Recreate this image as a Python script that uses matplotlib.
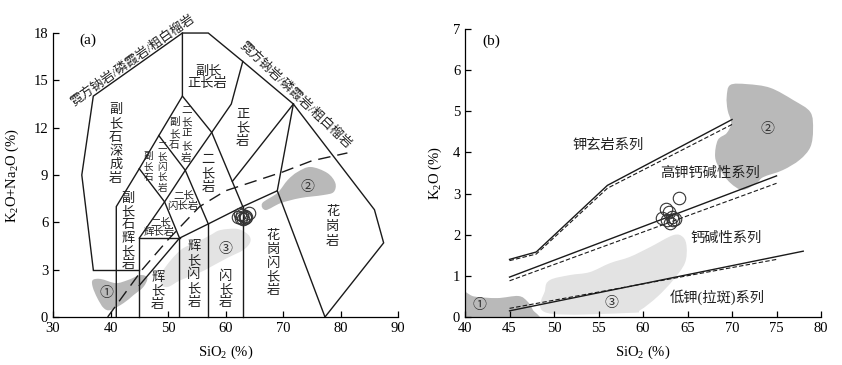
import numpy as np
import matplotlib
matplotlib.use("Agg")
import matplotlib.pyplot as plt
from matplotlib.path import Path
from matplotlib.patches import PathPatch

plt.rcParams['font.family'] = ['Liberation Serif', 'Noto Sans CJK SC', 'DejaVu Sans']
plt.rcParams['mathtext.fontset'] = 'custom'
plt.rcParams['mathtext.rm'] = 'Liberation Serif'
plt.rcParams['mathtext.it'] = 'Liberation Serif:italic'

# ---- panel (a): TAS plutonic classification boundaries ----
tas_lines = [
    [(41, 0), (41, 7), (45, 9.4), (48.4, 11.5), (52.5, 14), (52.5, 18)],
    [(37, 3), (35, 9), (37, 14), (52.5, 18), (57, 18), (63, 16.2), (71.8, 13.5),
     (85.9, 6.8), (87.5, 4.7), (77.3, 0)],
    [(37, 3), (45, 3)],
    [(45, 0), (45, 5), (52, 5)],
    [(52, 0), (52, 5), (57, 5.9), (63, 7), (69, 8), (77.3, 0)],
    [(57, 0), (57, 5.9)],
    [(63, 0), (63, 7)],
    [(69, 8), (71.8, 13.5)],
    [(45, 5), (49.4, 7.3), (53, 9.3), (57.6, 11.7), (61, 13.5), (63, 16.2)],
    [(52, 5), (49.4, 7.3), (45, 9.4)],
    [(57, 5.9), (53, 9.3), (48.4, 11.5)],
    [(63, 7), (57.6, 11.7), (52.5, 14)],
    [(61.2, 8.6), (71.8, 13.5)],
    [(45, 2), (52, 5)],
]
# alkaline / subalkaline dashed curve
alk_x = [39.5, 45.5, 50, 55.5, 60, 65, 70, 75, 81.2]
alk_y = [0, 3.0, 4.9, 7.0, 8.0, 8.6, 9.2, 9.9, 10.4]

blob1_a = [(36.9, 2.34), (38.3, 2.41), (40.9, 2.15), (43.0, 2.34), (45.2, 2.66), (46.4, 2.47),
           (45.7, 1.9), (44.0, 1.39), (42.3, 0.89), (40.0, 0.44), (38.8, 0.57), (37.7, 1.2),
           (36.9, 1.9)]
blob2_a = [(66.4, 7.22), (69.0, 7.86), (70.8, 8.68), (72.5, 9.19), (74.8, 9.51), (77.7, 9.13),
           (79.1, 8.49), (78.8, 7.92), (77.0, 7.73), (73.0, 7.54), (69.6, 7.22), (67.0, 6.78)]
blob3_a = [(48.7, 2.15), (49.2, 2.98), (52.2, 4.25), (55.1, 4.75), (57.4, 5.2), (59.1, 5.51),
           (62.1, 5.58), (64.0, 5.2), (64.3, 4.75), (63.1, 4.25), (60.3, 3.74), (57.4, 3.17),
           (55.7, 2.85), (52.2, 2.34), (49.9, 1.9)]

# samples
sio2 = [62.1, 62.6, 62.7, 62.9, 63.0, 63.3, 63.4, 63.6, 64.0]
alk = [6.35, 6.5, 6.3, 6.45, 6.2, 6.4, 6.25, 6.35, 6.6]
k2o = [2.41, 2.62, 2.36, 2.55, 2.29, 2.43, 2.36, 2.38, 2.89]

# ---- panel (b): K2O-SiO2 series boundaries ----
sho_x = [45, 48, 56, 70]
sho_y = [1.4, 1.58, 3.2, 4.8]
sho_y2 = [1.37, 1.53, 3.13, 4.68]
hk_x = [45, 75]
hk_y = [0.97, 3.43]
hk_y2 = [0.88, 3.25]
ca_x = [45, 78]
ca_y = [0.15, 1.6]
ca_x2 = [45, 75]
ca_y2 = [0.21, 1.4]

blob1_b = [(39.5, 0.62), (41, 0.5), (43.6, 0.46), (46, 0.51), (47, 0.38), (47.6, 0.18),
           (47.9, -0.1), (39.5, -0.1)]
blob2_b = [(69.8, 5.64), (71.7, 5.66), (74.3, 5.57), (76.9, 5.27), (78.8, 4.98), (79.1, 4.55),
           (78.8, 4.13), (77.6, 3.82), (75.7, 3.57), (73.5, 3.4), (72.8, 3.26), (71.2, 3.09),
           (69.8, 3.26), (68.7, 3.57), (68.1, 3.89), (68.4, 4.3), (69.4, 4.47), (69.9, 4.72),
           (69.5, 5.03), (69.4, 5.35)]
blob3_b = [(49.2, 0.1), (49.0, 0.66), (49.55, 0.9), (51.8, 1.02), (54.0, 1.09), (56.3, 1.31),
           (58.5, 1.46), (60.8, 1.7), (63.4, 1.99), (64.5, 1.94), (64.9, 1.7), (64.7, 1.31),
           (63.4, 0.9), (61.6, 0.49), (59.7, 0.17), (58.5, 0.1)]

DARK = '#b9b9b9'
LIGHT = '#e3e3e3'
LC = '#1a1a1a'


def smooth(pts):
    p = np.asarray(pts, float)
    n = len(p)
    verts = [p[0]]
    codes = [Path.MOVETO]
    for i in range(n):
        a, b, c, d = p[i - 1], p[i], p[(i + 1) % n], p[(i + 2) % n]
        verts += [b + (c - a) / 6, c - (d - b) / 6, c]
        codes += [Path.CURVE4] * 3
    return Path(verts, codes)


def blob(ax, pts, color):
    ax.add_patch(PathPatch(smooth(pts), facecolor=color, edgecolor='none', zorder=1))


def vlabel(ax, x, y, s, size=9.5, step=9.9):
    # stack characters one under another (vertical Chinese label)
    n = len(s)
    for i, ch in enumerate(s):
        ax.annotate(ch, (x, y), xytext=(0, ((n - 1) / 2 - i) * step),
                    textcoords='offset points', ha='center', va='center',
                    fontsize=size, color='#222', zorder=4)


def style(ax):
    ax.spines['top'].set_visible(False)
    ax.spines['right'].set_visible(False)
    ax.tick_params(direction='in', length=4, width=0.9, labelsize=10.5)
    for s in ('left', 'bottom'):
        ax.spines[s].set_linewidth(0.9)


fig = plt.figure(figsize=(8.42, 3.65), dpi=100)

# ================= (a) =================
ax1 = fig.add_axes([0.063, 0.1315, 0.4097, 0.778])
ax1.set_xlim(30, 90)
ax1.set_ylim(0, 18)
ax1.set_xticks(range(30, 91, 10))
ax1.set_yticks(range(0, 19, 3))
style(ax1)

blob(ax1, blob1_a, DARK)
blob(ax1, blob2_a, DARK)
blob(ax1, blob3_a, LIGHT)

for seg in tas_lines:
    xs, ys = zip(*seg)
    ax1.plot(xs, ys, color=LC, lw=1.0, zorder=2, clip_on=False, solid_joinstyle='miter')
ax1.plot(alk_x, alk_y, color=LC, lw=1.0, dashes=(9, 5), zorder=2)

ax1.plot(sio2, alk, 'o', ms=9, mfc='none', mec='#333', mew=0.8, zorder=3)

vlabel(ax1, 40.9, 10.93, '副长石深成岩')
vlabel(ax1, 43.1, 5.39, '副长石辉长岩', step=9.5)
vlabel(ax1, 48.2, 1.62, '辉长岩')
vlabel(ax1, 54.5, 2.66, '辉长闪长岩', step=10)
vlabel(ax1, 60.0, 1.71, '闪长岩', step=9.5)
vlabel(ax1, 68.3, 3.39, '花岗闪长岩', step=10)
vlabel(ax1, 78.6, 5.70, '花岗岩', step=10.5)
vlabel(ax1, 63.0, 11.95, '正长岩')
vlabel(ax1, 57.0, 9.06, '二长岩', step=10)
vlabel(ax1, 51.1, 11.6, '副长石', size=7.6, step=8.6)
vlabel(ax1, 53.2, 11.6, '二长正长岩', size=7.6, step=8.6)
vlabel(ax1, 46.6, 9.5, '副长石', size=6.9, step=7.4)
vlabel(ax1, 49.0, 9.47, '二长闪长岩', size=6.9, step=7.4)

small = dict(ha='center', va='center', fontsize=7.5, color='#222', zorder=4)
ax1.text(52.7, 7.67, '二长', **small)
ax1.text(52.5, 7.03, '闪长岩', **small)
ax1.text(48.7, 6.02, '二长', **small)
ax1.text(48.5, 5.39, '辉长岩', **small)
ax1.text(57.0, 15.5, '副长', ha='center', va='center', fontsize=9.5, color='#222')
ax1.text(56.9, 14.8, '正长岩', ha='center', va='center', fontsize=9.5, color='#222')

ax1.text(43.8, 16.29, '霓方钠岩/磷霞岩/粗白榴岩', rotation=35.3, rotation_mode='anchor',
         ha='center', va='center', fontsize=9.3, color='#222')
ax1.text(72.2, 14.05, '霓方钠岩/磷霞岩/粗白榴岩', rotation=-43.5, rotation_mode='anchor',
         ha='center', va='center', fontsize=9.3, color='#222')

circ = dict(ha='center', va='center', fontsize=10, color='#333', zorder=4)
ax1.text(39.3, 1.52, '①', **circ)
ax1.text(74.3, 8.24, '②', **circ)
ax1.text(60.0, 4.31, '③', **circ)
ax1.text(36.0, 17.55, '(a)', ha='center', va='center', fontsize=11)

ax1.set_xlabel('SiO$_2$ (%)', fontsize=10.5)
ax1.set_ylabel('K$_2$O+Na$_2$O (%)', fontsize=10.5)
ax1.xaxis.set_label_coords(0.5, -0.095)
ax1.yaxis.set_label_coords(-0.093, 0.5)

# ================= (b) =================
ax2 = fig.add_axes([0.5523, 0.1315, 0.4228, 0.789])
ax2.set_xlim(40, 80)
ax2.set_ylim(0, 7)
ax2.set_xticks(range(40, 81, 5))
ax2.set_yticks(range(0, 8))
style(ax2)

blob(ax2, blob1_b, DARK)
blob(ax2, blob2_b, DARK)
blob(ax2, blob3_b, LIGHT)

ax2.plot(sho_x, sho_y, color=LC, lw=1.0, zorder=2)
ax2.plot(sho_x, sho_y2, color=LC, lw=0.8, dashes=(4, 2), zorder=2)
ax2.plot(hk_x, hk_y, color=LC, lw=1.0, zorder=2)
ax2.plot(hk_x, hk_y2, color=LC, lw=0.8, dashes=(4, 2), zorder=2)
ax2.plot(ca_x, ca_y, color=LC, lw=1.0, zorder=2)
ax2.plot(ca_x2, ca_y2, color=LC, lw=0.8, dashes=(4, 2), zorder=2)

ax2.plot(sio2, k2o, 'o', ms=9, mfc='none', mec='#333', mew=0.8, zorder=3)

lab = dict(ha='center', va='center', fontsize=10.3, color='#222', zorder=4)
ax2.text(56.1, 4.18, '钾玄岩系列', **lab)
ax2.text(67.5, 3.5, '高钾钙碱性系列', **lab)
ax2.text(69.3, 1.92, '钙碱性系列', **lab)
ax2.text(68.3, 0.49, '低钾(拉斑)系列', **lab)

ax2.text(41.6, 0.27, '①', **circ)
ax2.text(74.0, 4.55, '②', **circ)
ax2.text(56.5, 0.34, '③', **circ)
ax2.text(43.0, 6.71, '(b)', ha='center', va='center', fontsize=11)

ax2.set_xlabel('SiO$_2$ (%)', fontsize=10.5)
ax2.set_ylabel('K$_2$O (%)', fontsize=10.5)
ax2.xaxis.set_label_coords(0.5, -0.094)
ax2.yaxis.set_label_coords(-0.059, 0.5)

fig.savefig('out.png', dpi=100)
